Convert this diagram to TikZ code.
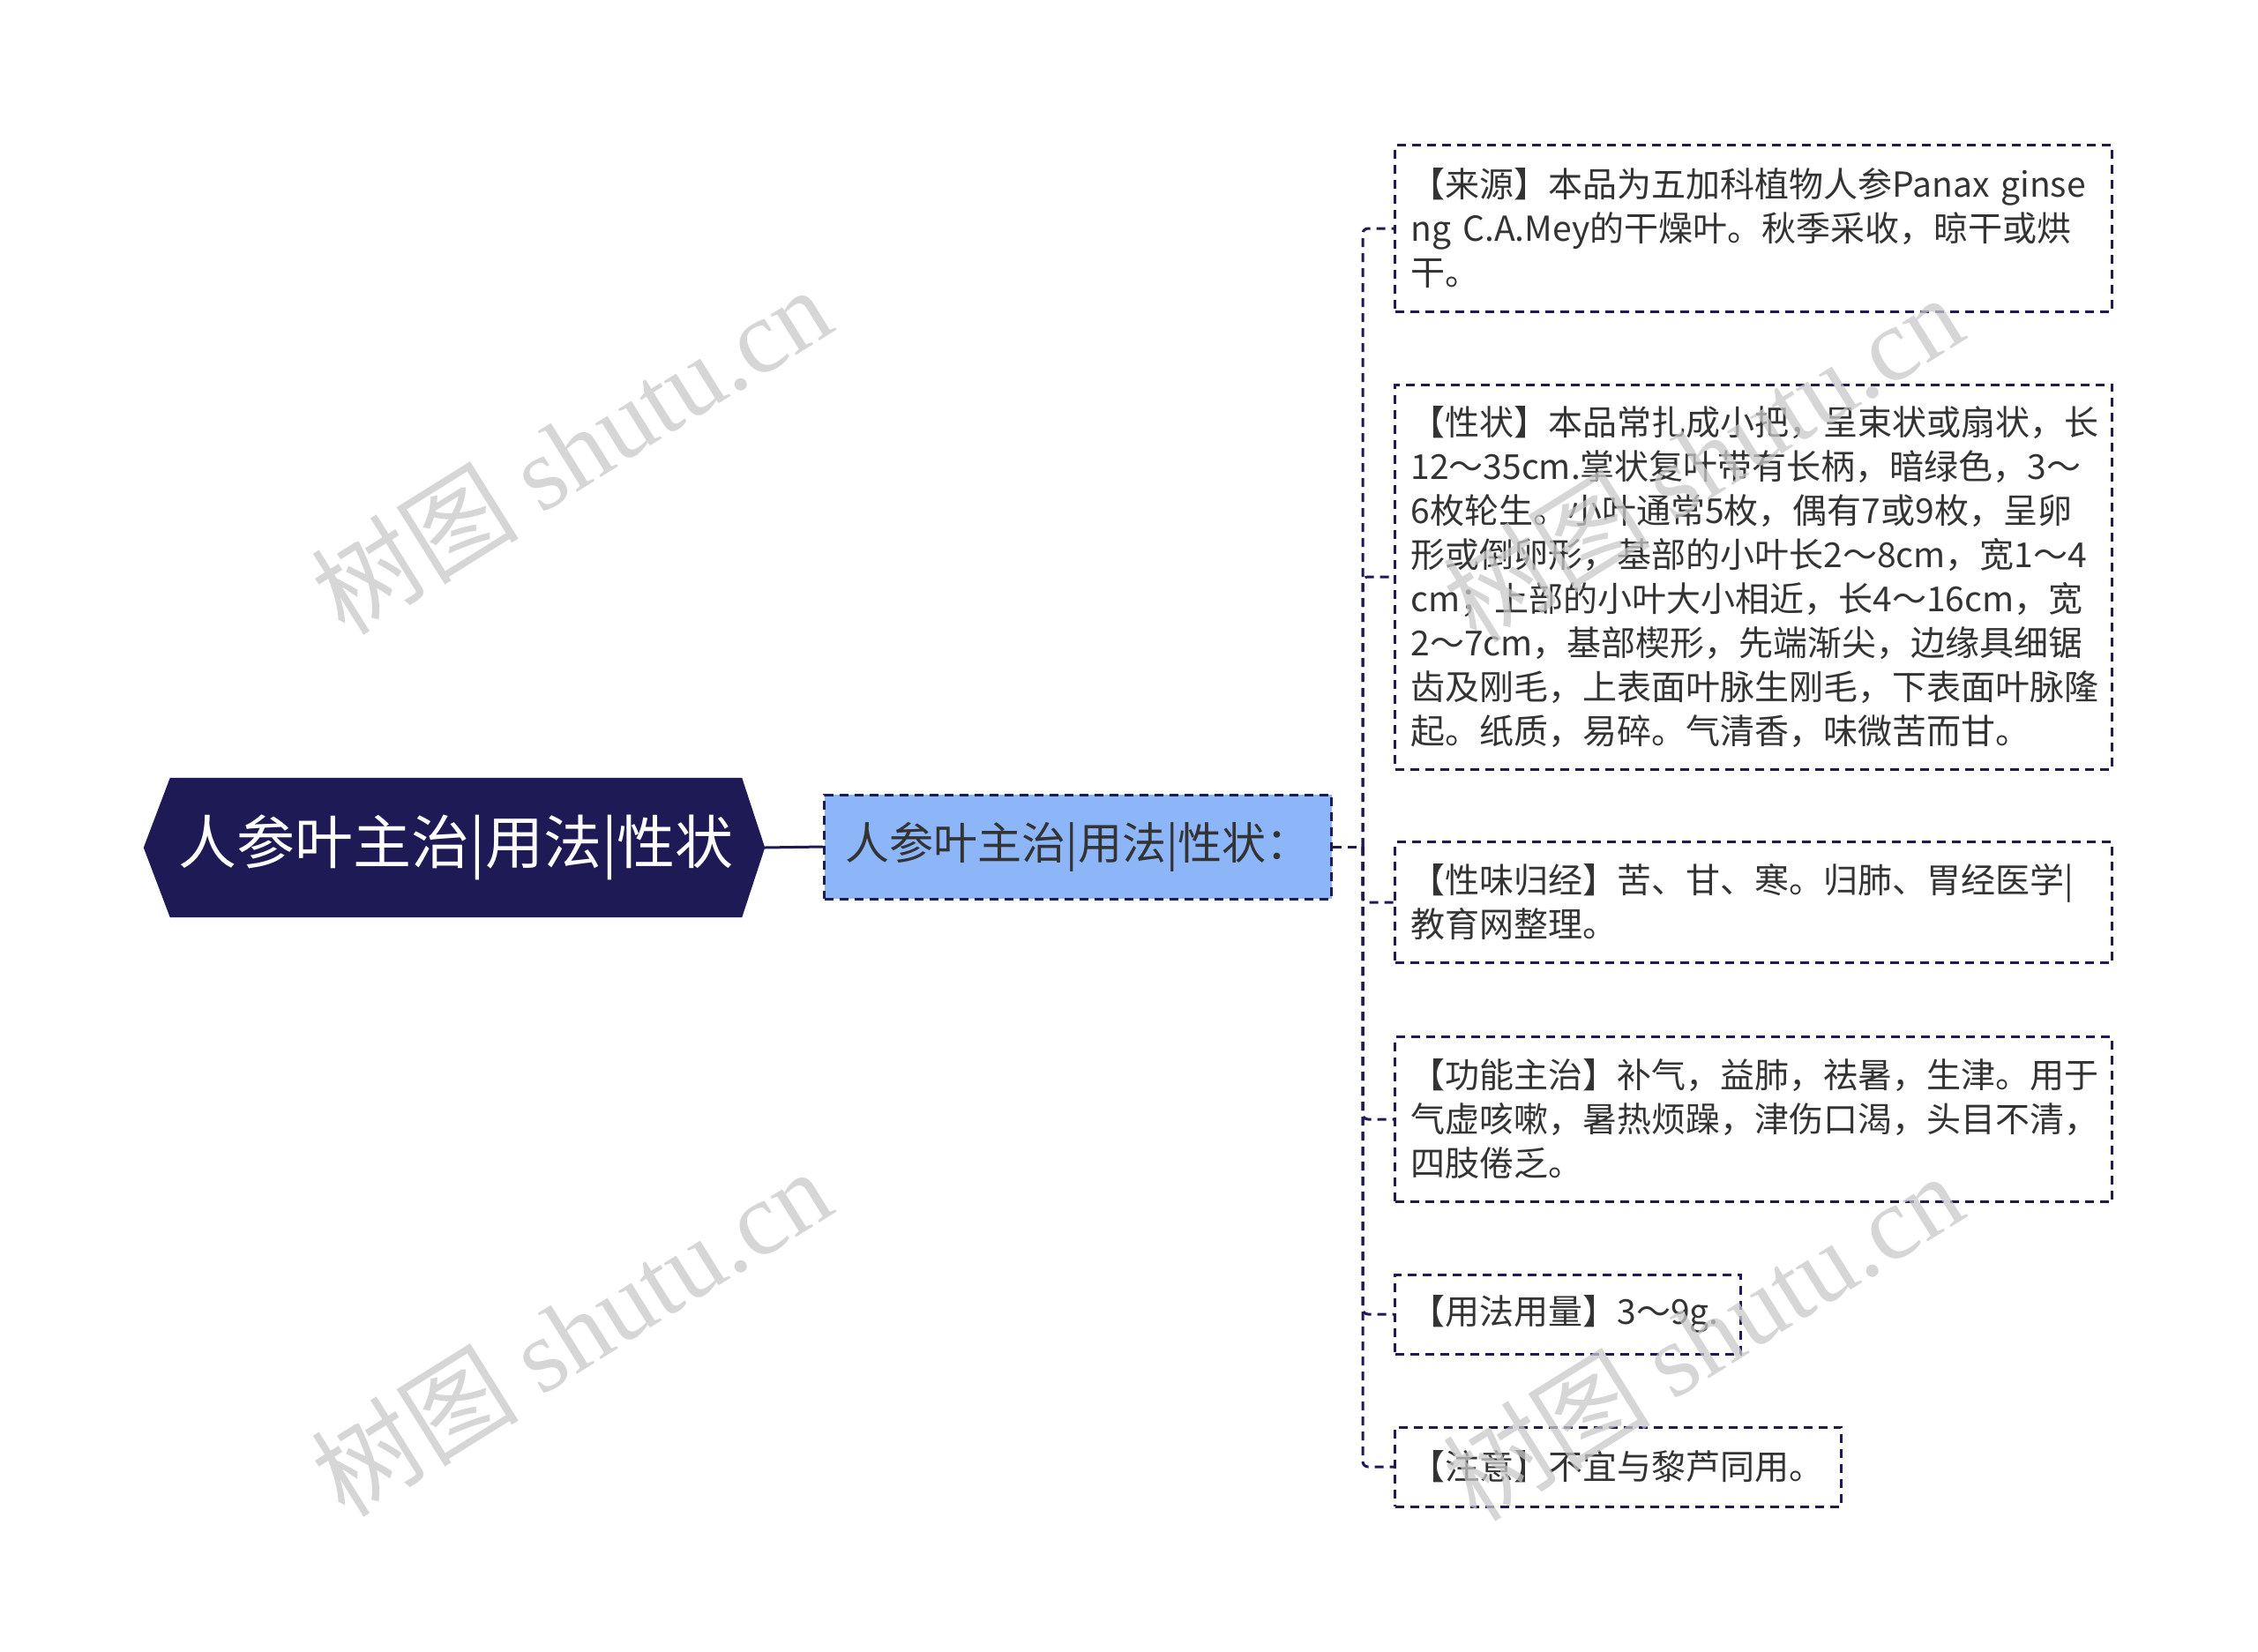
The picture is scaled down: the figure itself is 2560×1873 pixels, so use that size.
\documentclass[tikz,border=0pt]{standalone}
\usepackage{fontspec}
\setmainfont{Noto Sans CJK SC}
\newfontfamily\wmlatin{Liberation Serif}
\usetikzlibrary{calc,backgrounds}
\definecolor{navy}{HTML}{1E1A56}
\definecolor{subblue}{HTML}{8DB6F9}
\definecolor{txt}{HTML}{333333}
\definecolor{wm}{HTML}{C8C8C8}
\begin{document}
\begin{tikzpicture}[x=1pt,y=-1pt,
  rootbox/.style={inner sep=0pt, minimum width=648pt, minimum height=158pt, text=white, font=\fontsize{66}{72}\selectfont},
  subbox/.style={draw=navy, fill=subblue, dash pattern=on 10pt off 7pt, line width=3pt, minimum width=575pt, minimum height=118pt, inner sep=0pt, text=txt, font=\fontsize{50}{56}\selectfont},
  leafbox/.style={draw=navy, dash pattern=on 10pt off 7pt, line width=3pt, inner xsep=18pt, inner ysep=0pt, align=left, text=txt, font=\fontsize{39}{50}\selectfont, anchor=west},
  link/.style={draw=navy, line width=3pt, dash pattern=on 10pt off 7pt, rounded corners=6pt},
  wmark/.style={text=wm, opacity=0.75, rotate=32, font=\fontsize{118}{128}\selectfont}
]
\useasboundingbox (0,0) rectangle (2560,1873);
\node[rootbox] (root) at (517,961) {人参叶主治|用法|性状};
\begin{scope}[on background layer]
\fill[navy] (root.north west) -- (root.north east) -- ($(root.east)+(26,0)$) -- (root.south east) -- (root.south west) -- ($(root.west)+(-30,0)$) -- cycle;
\end{scope}
\node[subbox] (sub) at (1222,960) {人参叶主治|用法|性状：};
\coordinate (rt) at ($(root.east)+(26,0)$);
\draw[navy, line width=3pt] (rt) -- (sub.west);
\coordinate (j) at (1545,960);
\draw[link] (sub.east) -- (j);

\node[leafbox, text width=777pt, minimum height=188pt] (l1) at (1580,259) {【来源】本品为五加科植物人参Panax~ginse\\ng~C.A.Mey的干燥叶。秋季采收，晾干或烘\\干。};
\node[leafbox, text width=777pt, minimum height=436pt] (l2) at (1580,654) {【性状】本品常扎成小把，呈束状或扇状，长\\12～35cm.掌状复叶带有长柄，暗绿色，3～\\6枚轮生。小叶通常5枚，偶有7或9枚，呈卵\\形或倒卵形，基部的小叶长2～8cm，宽1～4\\cm；上部的小叶大小相近，长4～16cm，宽\\2～7cm，基部楔形，先端渐尖，边缘具细锯\\齿及刚毛，上表面叶脉生刚毛，下表面叶脉隆\\起。纸质，易碎。气清香，味微苦而甘。};
\node[leafbox, text width=777pt, minimum height=137pt] (l3) at (1580,1023) {【性味归经】苦、甘、寒。归肺、胃经医学|\\教育网整理。};
\node[leafbox, text width=777pt, minimum height=187pt] (l4) at (1580,1269) {【功能主治】补气，益肺，祛暑，生津。用于\\气虚咳嗽，暑热烦躁，津伤口渴，头目不清，\\四肢倦乏。};
\node[leafbox, text width=356pt, minimum height=90pt] (l5) at (1580,1490) {【用法用量】3～9g.};
\node[leafbox, text width=470pt, minimum height=90pt] (l6) at (1580,1663) {【注意】不宜与黎芦同用。};
\foreach \n in {l1,l2,l3,l4,l5,l6} \draw[link] (j) |- (\n.west);

\node[wmark] (w1) at (647,510) {树图 {\wmlatin shutu.cn}};
\node[wmark] (w2) at (647,1510) {树图 {\wmlatin shutu.cn}};
\node[wmark] (w3) at (1930,519) {树图 {\wmlatin shutu.cn}};
\node[wmark] (w4) at (1930,1515) {树图 {\wmlatin shutu.cn}};
\end{tikzpicture}
\end{document}
